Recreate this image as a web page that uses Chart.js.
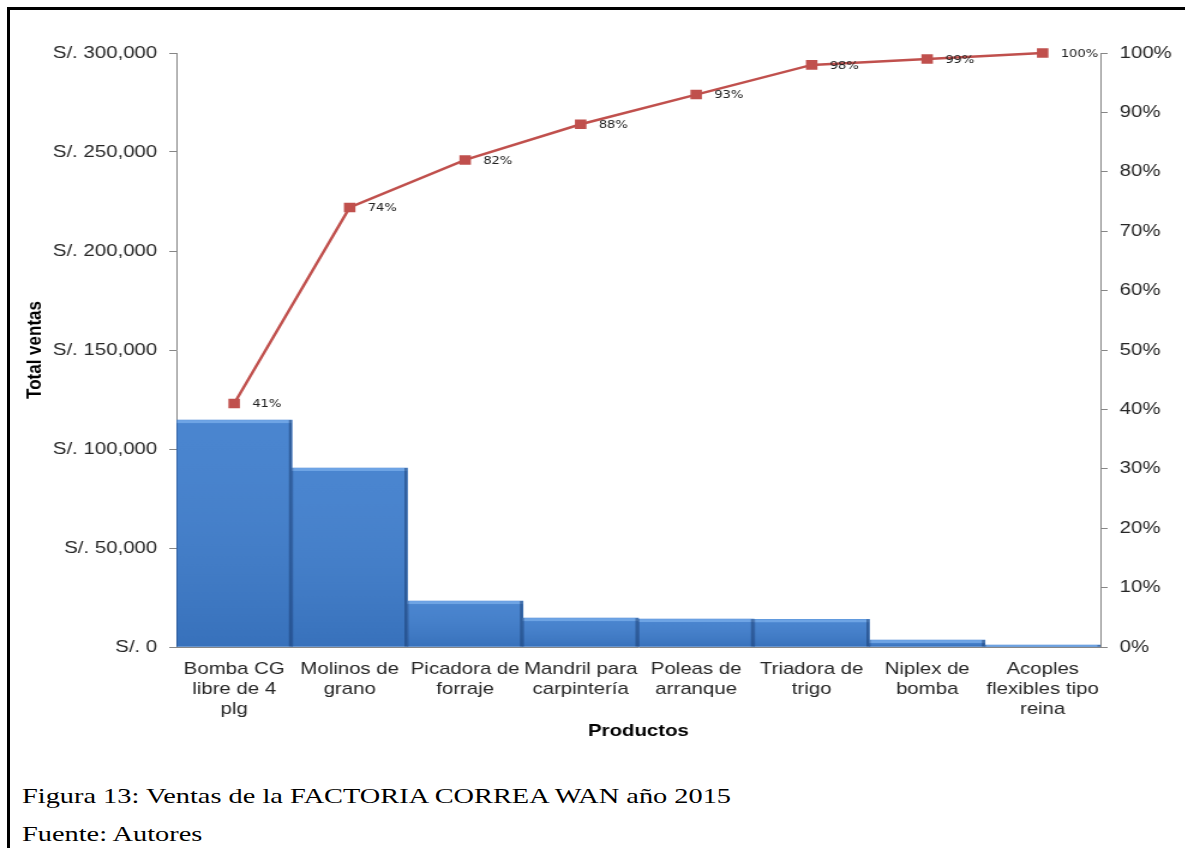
<!DOCTYPE html>
<html>
<head>
<meta charset="utf-8">
<script src="https://cdn.jsdelivr.net/npm/chart.js@4/dist/chart.umd.min.js"></script>
<style>
    html, body { margin: 0; padding: 0; background: #fff; overflow: hidden; }
    body { width: 1185px; height: 848px; position: relative; }
    .frame {
        position: absolute; left: 7px; top: 7px;
        width: 1300px; height: 1000px;
        border: 3px solid #000;
    }
    /* chart is drawn narrower and widened, like the pasted figure */
    .chart-box {
        position: absolute; left: 0; top: 0;
        width: 988px; height: 760px;
        transform: scaleX(1.2); transform-origin: 0 0;
    }
    .caption {
        position: absolute; left: 22px;
        font-family: "Liberation Serif", "Times New Roman", serif;
        font-size: 21px; color: #000; white-space: nowrap;
        transform: scaleX(1.35); transform-origin: 0 50%;
    }
</style>
</head>
<body>
<div class="frame"></div>
<div class="chart-box"><canvas id="paretoChart"></canvas></div>
<div class="caption" style="top:784px">Figura 13: Ventas de la FACTORIA CORREA WAN año 2015</div>
<div class="caption" style="top:822px">Fuente: Autores</div>

<script>
const productos = [
    ["Bomba CG", "libre de 4", "plg"],
    ["Molinos de", "grano"],
    ["Picadora de", "forraje"],
    ["Mandril para", "carpintería"],
    ["Poleas de", "arranque"],
    ["Triadora de", "trigo"],
    ["Niplex de", "bomba"],
    ["Acoples", "flexibles tipo", "reina"]
];
const totalVentas = [114600, 90400, 23200, 14600, 14100, 14000, 3500, 1000];
const acumulado = [41, 74, 82, 88, 93, 98, 99, 100];

const GRAY = '#868686';
const TEXT = '#262626';

// percent labels next to each point of the cumulative line
const pointLabels = {
    id: 'pointLabels',
    afterDatasetsDraw(chart) {
        const ctx = chart.ctx;
        const meta = chart.getDatasetMeta(1);
        ctx.save();
        ctx.font = '11px "DejaVu Sans", Verdana, sans-serif';
        ctx.fillStyle = '#222';
        ctx.textAlign = 'left';
        ctx.textBaseline = 'middle';
        meta.data.forEach((pt, i) => {
            ctx.fillText(acumulado[i] + '%', pt.x + 15, pt.y + 1);
        });
        ctx.restore();
    }
};

// shading on the bars: gradient, light top edge, dark sides
const barBevel = {
    id: 'barBevel',
    afterDatasetDraw(chart, args) {
        if (args.index !== 0) return;
        const ctx = chart.ctx;
        ctx.save();
        args.meta.data.forEach(bar => {
            const { x, y, base, width } = bar.getProps(['x', 'y', 'base', 'width'], true);
            const l = x - width / 2, r = x + width / 2, h = base - y;
            if (h <= 0) return;
            const g = ctx.createLinearGradient(0, y, 0, base);
            g.addColorStop(0, 'rgba(255,255,255,0.06)');
            g.addColorStop(1, 'rgba(0,20,60,0.12)');
            ctx.fillStyle = g;
            ctx.fillRect(l, y, width, h);
            ctx.fillStyle = 'rgba(140,190,245,0.55)';
            ctx.fillRect(l, y, width, Math.min(3, h));
            ctx.fillStyle = 'rgba(20,50,100,0.45)';
            ctx.fillRect(r - 2.5, y, 2.5, h);
            ctx.fillStyle = 'rgba(20,50,100,0.35)';
            ctx.fillRect(l, y, 1, h);
        });
        ctx.restore();
    }
};

new Chart(document.getElementById('paretoChart'), {
    data: {
        labels: productos,
        datasets: [
            {
                type: 'bar',
                label: 'Total ventas',
                data: totalVentas,
                backgroundColor: '#3F7ECD',
                borderWidth: 0,
                barPercentage: 1,
                categoryPercentage: 1,
                yAxisID: 'y',
                order: 2
            },
            {
                type: 'line',
                label: 'Acumulado',
                data: acumulado,
                borderColor: '#C0504D',
                borderWidth: 2.5,
                pointStyle: 'rect',
                pointRadius: 5,
                pointBackgroundColor: '#C0504D',
                pointBorderColor: '#C0504D',
                tension: 0,
                clip: false,
                yAxisID: 'y1',
                order: 1
            }
        ]
    },
    options: {
        responsive: true,
        maintainAspectRatio: false,
        animation: false,
        layout: { padding: { top: 53, left: 0, right: 0, bottom: 0 } },
        plugins: {
            legend: { display: false },
            tooltip: { enabled: false }
        },
        scales: {
            x: {
                grid: { display: false, drawTicks: false },
                border: { display: true, color: GRAY, width: 1 },
                ticks: {
                    color: TEXT,
                    font: { family: '"Liberation Sans", Arial, sans-serif', size: 17, lineHeight: 1.18 },
                    padding: 12,
                    autoSkip: false,
                    maxRotation: 0,
                    minRotation: 0
                },
                title: {
                    display: true,
                    text: 'Productos',
                    color: '#000',
                    font: { family: '"Liberation Sans", Arial, sans-serif', size: 17, weight: 'bold', lineHeight: 1.2 },
                    padding: { top: 0, bottom: 18 }
                },
                afterFit(scale) { scale.height = 113; }
            },
            y: {
                position: 'left',
                min: 0,
                max: 300000,
                grid: { drawOnChartArea: false, drawTicks: true, tickLength: 6, color: GRAY },
                border: { display: true, color: GRAY, width: 1 },
                ticks: {
                    stepSize: 50000,
                    color: TEXT,
                    font: { family: '"Liberation Sans", Arial, sans-serif', size: 17 },
                    padding: 10,
                    callback: v => 'S/. ' + v.toLocaleString('en-US')
                },
                title: {
                    display: true,
                    text: 'Total ventas',
                    color: '#000',
                    font: { family: '"Liberation Sans", Arial, sans-serif', size: 17, weight: 'bold', lineHeight: 1.2 },
                    padding: { top: 19, bottom: 0 }
                },
                afterFit(scale) { scale.width = 147; }
            },
            y1: {
                position: 'right',
                min: 0,
                max: 100,
                grid: { drawOnChartArea: false, drawTicks: true, tickLength: 6, color: GRAY },
                border: { display: true, color: GRAY, width: 1 },
                ticks: {
                    stepSize: 10,
                    color: TEXT,
                    font: { family: '"Liberation Sans", Arial, sans-serif', size: 17 },
                    padding: 10,
                    callback: v => v + '%'
                },
                afterFit(scale) { scale.width = 71; }
            }
        }
    },
    plugins: [barBevel, pointLabels]
});
</script>
</body>
</html>
